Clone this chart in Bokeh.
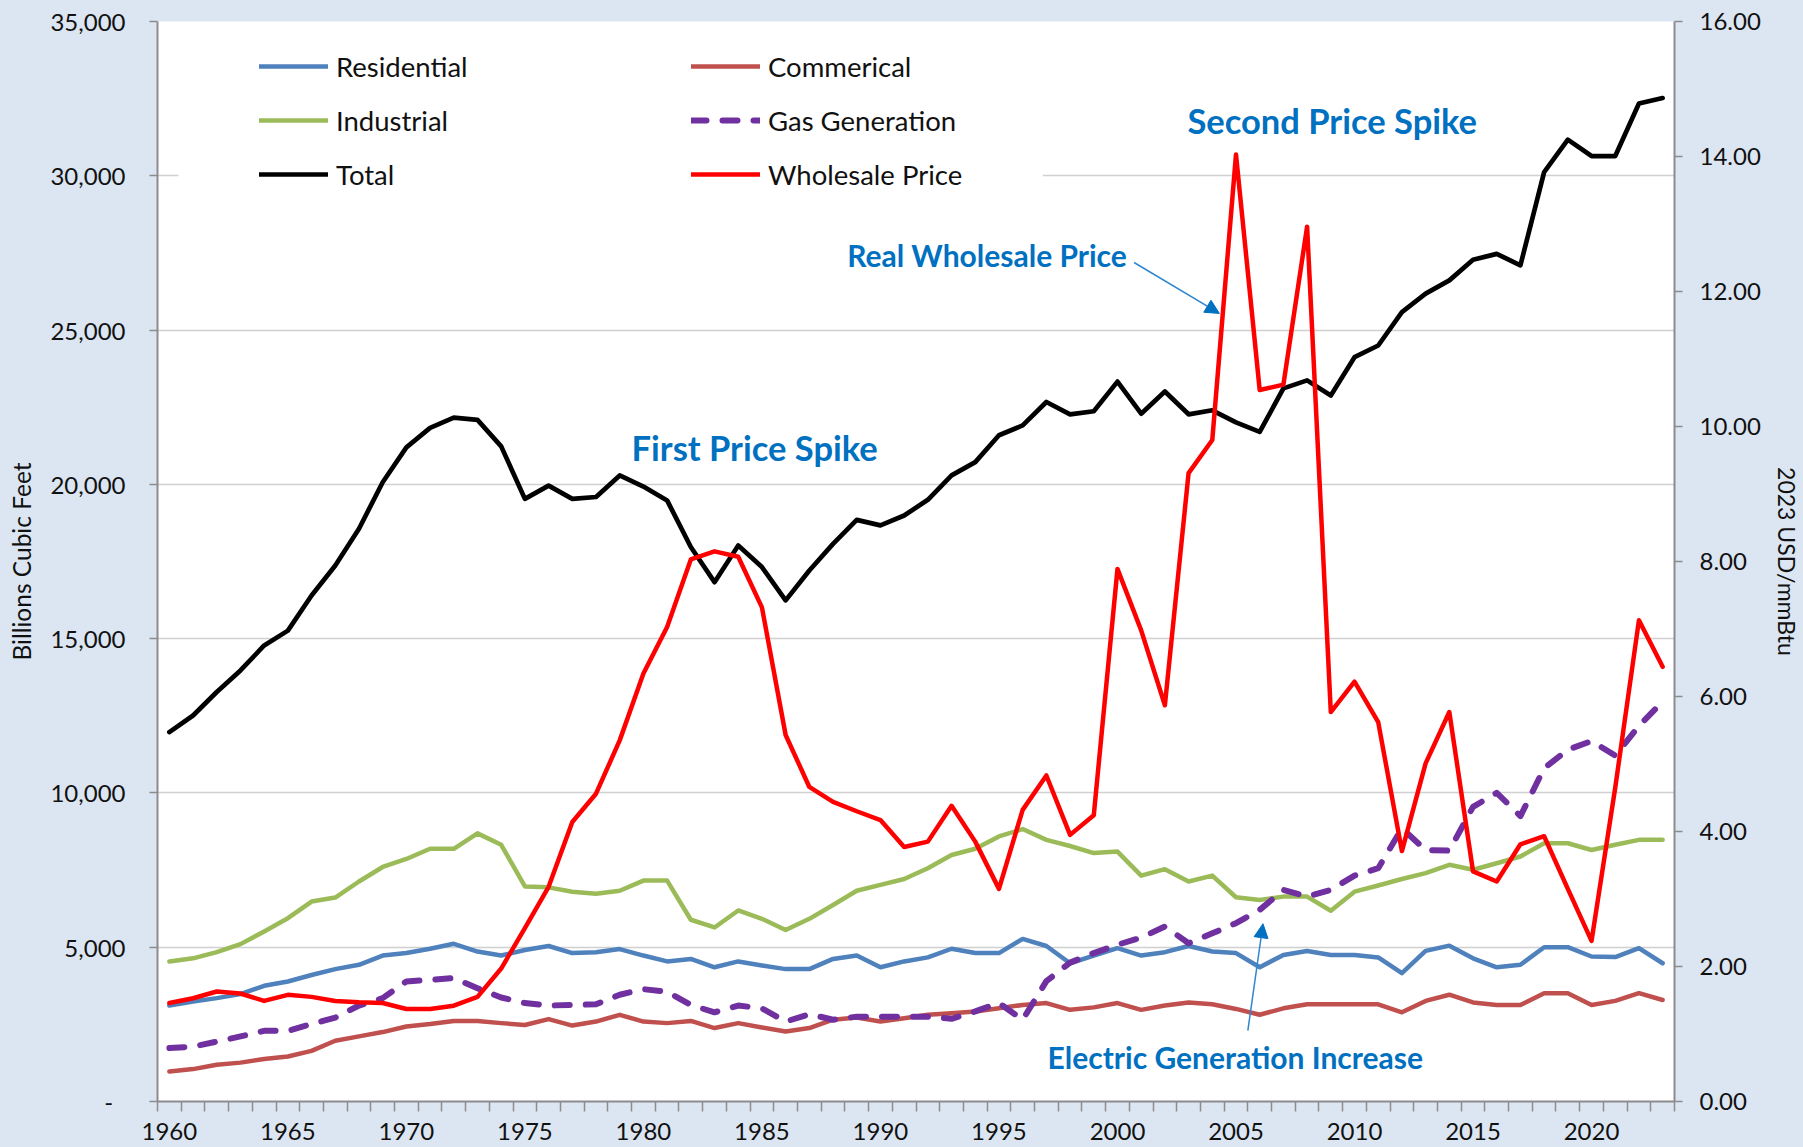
from bokeh.plotting import figure
from bokeh.models import (Range1d, LinearAxis, FixedTicker, NumeralTickFormatter, Legend, LegendItem,
                          Label, Arrow, NormalHead, BoxAnnotation, ColumnDataSource, GlobalInlineStyleSheet)
from bokeh.embed import file_html
from bokeh.resources import INLINE

# ---------------- data ----------------
years = list(range(1960, 2024))

residential = [3110, 3240, 3350, 3480, 3750, 3890, 4100, 4290, 4430, 4730,
               4810, 4950, 5110, 4860, 4730, 4910, 5040, 4810, 4840, 4940,
               4730, 4540, 4620, 4350, 4540, 4410, 4290, 4290, 4620, 4730,
               4350, 4540, 4670, 4950, 4810, 4810, 5270, 5040, 4480, 4730,
               4970, 4730, 4840, 5040, 4860, 4810, 4350, 4750, 4880, 4750,
               4750, 4670, 4160, 4880, 5050, 4640, 4350, 4430, 5000, 5000,
               4700, 4680, 4970, 4480]

commercial = [970, 1050, 1190, 1260, 1380, 1460, 1640, 1970, 2110, 2250,
              2430, 2510, 2610, 2610, 2540, 2480, 2670, 2460, 2590, 2810,
              2590, 2540, 2610, 2380, 2540, 2400, 2270, 2380, 2650, 2720,
              2590, 2700, 2810, 2860, 2920, 3020, 3130, 3190, 2970, 3050,
              3190, 2970, 3110, 3210, 3150, 3000, 2810, 3020, 3150, 3150,
              3150, 3150, 2890, 3260, 3460, 3210, 3130, 3130, 3510, 3510,
              3130, 3260, 3510, 3290]

industrial = [4540, 4640, 4840, 5100, 5510, 5940, 6480, 6610, 7130, 7600,
              7860, 8190, 8190, 8690, 8320, 6970, 6940, 6800, 6730, 6830,
              7160, 7160, 5890, 5640, 6190, 5920, 5560, 5920, 6370, 6830,
              7020, 7210, 7560, 7990, 8190, 8590, 8830, 8480, 8280, 8050,
              8100, 7320, 7530, 7130, 7320, 6620, 6530, 6640, 6640, 6180,
              6800, 7000, 7210, 7400, 7670, 7510, 7720, 7940, 8370, 8370,
              8150, 8320, 8480, 8480]

gas_generation = [1730, 1780, 1940, 2110, 2290, 2290, 2510, 2720, 3110, 3350,
                  3890, 3940, 4000, 3670, 3370, 3190, 3110, 3130, 3150, 3460,
                  3640, 3560, 3130, 2890, 3110, 3020, 2590, 2830, 2650, 2750,
                  2750, 2750, 2750, 2680, 2920, 3190, 2650, 3900, 4500, 4810,
                  5080, 5310, 5670, 5130, 5450, 5780, 6210, 6860, 6640, 6860,
                  7320, 7560, 8850, 8150, 8130, 9550, 10000, 9250, 10800, 11400,
                  11680, 11210, 12170, 12960]

total = [11970, 12510, 13270, 13970, 14780, 15260, 16400, 17370, 18560, 20070,
         21200, 21830, 22160, 22090, 21230, 19530, 19960, 19530, 19590, 20290,
         19930, 19480, 17970, 16830, 18020, 17320, 16240, 17210, 18070, 18850,
         18670, 18990, 19500, 20290, 20720, 21590, 21910, 22670, 22270, 22370,
         23330, 22290, 23010, 22270, 22400, 22010, 21700, 23110, 23370, 22880,
         24120, 24500, 25580, 26180, 26610, 27280, 27470, 27100, 30120, 31170,
         30640, 30640, 32340, 32520]

wholesale_price = [1.46, 1.53, 1.63, 1.60, 1.49, 1.58, 1.55, 1.49, 1.47, 1.46,
                   1.37, 1.37, 1.42, 1.55, 1.97, 2.57, 3.18, 4.14, 4.56, 5.35,
                   6.34, 7.03, 8.03, 8.15, 8.07, 7.32, 5.43, 4.66, 4.44, 4.30,
                   4.17, 3.77, 3.85, 4.38, 3.85, 3.15, 4.32, 4.83, 3.95, 4.24,
                   7.89, 6.98, 5.87, 9.31, 9.80, 14.03, 10.54, 10.62, 12.96, 5.77,
                   6.22, 5.62, 3.71, 5.01, 5.77, 3.41, 3.26, 3.81, 3.93, 3.15,
                   2.38, 4.65, 7.13, 6.44]

left_ticks = [0, 5000, 10000, 15000, 20000, 25000, 30000, 35000]
right_ticks = [0, 2, 4, 6, 8, 10, 12, 14, 16]
year_labels = [1960, 1965, 1970, 1975, 1980, 1985, 1990, 1995, 2000, 2005, 2010, 2015, 2020]

series_names = ["Residential", "Commerical", "Industrial", "Gas Generation", "Total", "Wholesale Price"]
annotation_texts = ["First Price Spike", "Second Price Spike", "Real Wholesale Price",
                    "Electric Generation Increase"]

# ---------------- styling ----------------
BG = "#DCE6F2"
AXIS_GRAY = "#8C8C8C"
GRID_GRAY = "#D0D0D0"
TXT = "#111111"
ANN = "#0070C0"
FONT = "Lato"
W, H = 1803, 1147
FRAME_L, FRAME_R, FRAME_T, FRAME_B = 157, 1682, 21, 1101
PX_PER_YEAR = (FRAME_R - FRAME_L) / 64.0

src = ColumnDataSource(dict(year=years, residential=residential, commercial=commercial,
                            industrial=industrial, gas=gas_generation, total=total,
                            price=wholesale_price))

p = figure(width=W, height=H, output_backend="svg", toolbar_location=None,
           x_range=Range1d(1959.5, 2023.5), y_range=Range1d(0, 35000),
           min_border_left=FRAME_L, min_border_right=W - FRAME_R,
           min_border_top=FRAME_T, min_border_bottom=H - FRAME_B,
           background_fill_color="white", border_fill_color=BG, outline_line_color=None)
p.extra_y_ranges = {"price": Range1d(0, 16)}
p.stylesheets = [GlobalInlineStyleSheet(css="html, body { background-color: %s; }" % BG)]

# grid
p.xgrid.visible = False
p.ygrid.ticker = FixedTicker(ticks=left_ticks)
p.ygrid.grid_line_color = GRID_GRAY
p.ygrid.grid_line_width = 1.5

# x axis
xa = p.xaxis[0]
xa.ticker = FixedTicker(ticks=year_labels, minor_ticks=[y - 0.5 for y in years] + [years[-1] + 0.5])
xa.major_tick_line_color = None
xa.major_tick_out = 0
xa.major_tick_in = 0
xa.minor_tick_line_color = AXIS_GRAY
xa.minor_tick_line_width = 1.5
xa.minor_tick_out = 10
xa.minor_tick_in = 0
xa.axis_line_color = AXIS_GRAY
xa.axis_line_width = 2
xa.major_label_standoff = 11
xa.major_label_text_font = FONT
xa.major_label_text_font_size = "24px"
xa.major_label_text_color = TXT

# left axis
ya = p.yaxis[0]
ya.ticker = FixedTicker(ticks=left_ticks)
ya.formatter = NumeralTickFormatter(format="0,0")
ya.major_label_overrides = {0: "-\u00a0\u00a0"}
ya.minor_tick_line_color = None
ya.major_tick_line_color = AXIS_GRAY
ya.major_tick_line_width = 1.5
ya.major_tick_out = 8
ya.major_tick_in = 0
ya.axis_line_color = AXIS_GRAY
ya.axis_line_width = 2
ya.major_label_standoff = 24
ya.major_label_text_font = FONT
ya.major_label_text_font_size = "24px"
ya.major_label_text_color = TXT
ya.axis_label = "Billions Cubic Feet"
ya.axis_label_text_font = FONT
ya.axis_label_text_font_size = "24.5px"
ya.axis_label_text_font_style = "normal"
ya.axis_label_text_color = TXT
ya.axis_label_standoff = 11

# right axis
ra = LinearAxis(y_range_name="price", ticker=FixedTicker(ticks=right_ticks),
                formatter=NumeralTickFormatter(format="0.00"))
ra.minor_tick_line_color = None
ra.major_tick_line_color = AXIS_GRAY
ra.major_tick_line_width = 1.5
ra.major_tick_out = 8
ra.major_tick_in = 0
ra.axis_line_color = AXIS_GRAY
ra.axis_line_width = 2
ra.major_label_standoff = 17
ra.major_label_text_font = FONT
ra.major_label_text_font_size = "24px"
ra.major_label_text_color = TXT
ra.axis_label = "2023 USD/mmBtu"
ra.axis_label_text_font = FONT
ra.axis_label_text_font_size = "23px"
ra.axis_label_text_font_style = "normal"
ra.axis_label_text_color = TXT
ra.axis_label_standoff = 9
p.add_layout(ra, "right")

# legend mask (hides the gridline behind the legend, as in the original)
mask = BoxAnnotation(left=1959.5 + 21 / PX_PER_YEAR, right=1959.5 + 890 / PX_PER_YEAR,
                     bottom=28000, top=33500, fill_color="white", fill_alpha=1.0,
                     line_color=None)
p.add_layout(mask)

# lines
common = dict(source=src, line_join="round", line_cap="round")
r_res = p.line("year", "residential", line_color="#4F81BD", line_width=4.5, **common)
r_com = p.line("year", "commercial", line_color="#C0504D", line_width=4.5, **common)
r_ind = p.line("year", "industrial", line_color="#9BBB59", line_width=4.5, **common)
r_gas = p.line("year", "gas", line_color="#7030A0", line_width=6, line_dash="15 16", **common)
r_tot = p.line("year", "total", line_color="#000000", line_width=4.7, **common)
r_pri = p.line("year", "price", line_color="#FF0000", line_width=4.5, y_range_name="price", **common)

def make_legend(items, loc):
    return Legend(items=items, location=loc, orientation="vertical",
                  background_fill_alpha=0, border_line_color=None,
                  label_text_font=FONT, label_text_font_size="27.5px", label_text_color=TXT,
                  glyph_width=69, glyph_height=34, label_height=34, label_standoff=8,
                  spacing=20, padding=10)

leg1 = make_legend([LegendItem(label=series_names[0], renderers=[r_res]),
                    LegendItem(label=series_names[2], renderers=[r_ind]),
                    LegendItem(label=series_names[4], renderers=[r_tot])], (102, 910))
leg2 = make_legend([LegendItem(label=series_names[1], renderers=[r_com]),
                    LegendItem(label=series_names[3], renderers=[r_gas]),
                    LegendItem(label=series_names[5], renderers=[r_pri])], (534, 910))
p.add_layout(leg1)
p.add_layout(leg2)

# annotations
def ann(text, x, y, size):
    return Label(x=x, y=y, text=text, text_font=FONT, text_font_size=size,
                 text_font_style="bold", text_color=ANN, text_align="left",
                 text_baseline="middle")

p.add_layout(ann(annotation_texts[0], 1979.5, 21200, "34.5px"))
p.add_layout(ann(annotation_texts[1], 2002.95, 31800, "34.5px"))
p.add_layout(ann(annotation_texts[2], 1988.6, 27420, "30px"))
p.add_layout(ann(annotation_texts[3], 1997.05, 1450, "30px"))

arrow_color = "#2E86D0"
p.add_layout(Arrow(end=NormalHead(size=14, fill_color=ANN, line_color=ANN),
                   x_start=2000.7, y_start=27190, x_end=2004.3, y_end=25540,
                   line_color=arrow_color, line_width=1.5))
p.add_layout(Arrow(end=NormalHead(size=14, fill_color=ANN, line_color=ANN),
                   x_start=2005.5, y_start=2300, x_end=2006.14, y_end=5760,
                   line_color=arrow_color, line_width=1.5))

open("out.html", "w").write(file_html(p, INLINE))
